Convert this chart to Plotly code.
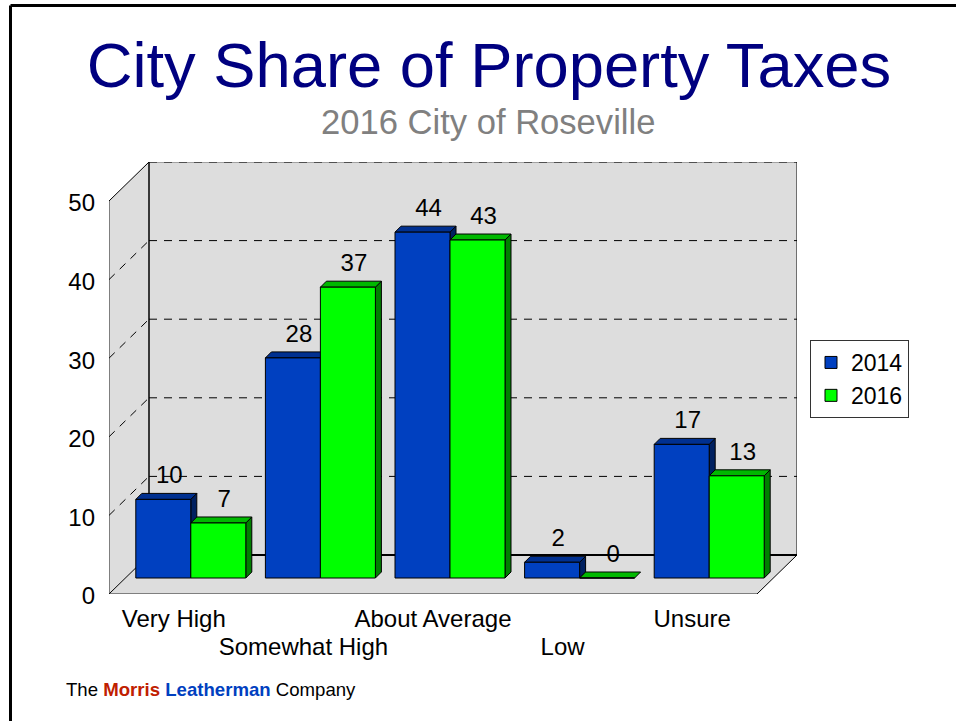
import plotly.graph_objects as go

categories = ["Very High", "Somewhat High", "About Average", "Low", "Unsure"]
series_2014 = [10, 28, 44, 2, 17]
series_2016 = [7, 37, 43, 0, 13]
y_ticks = [0, 10, 20, 30, 40, 50]

# pixel calibration of the pseudo-3D box
PX_X = 129.6   # px per category
PX_Y = 7.86    # px per value unit
L, R, T, B = 109, 797, 162, 594
W, H = 956, 721
DEPTH_X = 40 / PX_X
DEPTH_Y = 39 / PX_Y
INSET_X = 17 / PX_X
INSET_Y = 16 / PX_Y
BAR_W = 55 / PX_X
BAR_DX = 6 / PX_X
BAR_DY = 6 / PX_Y
x_max = (R - L) / PX_X
y_max = (B - T) / PX_Y
n = len(categories)
front_right = x_max - DEPTH_X
y_top = y_ticks[-1]

BLUE, BLUE_TOP, BLUE_SIDE = "#0040C0", "#003090", "#002060"
GREEN, GREEN_TOP, GREEN_SIDE = "#00FF00", "#00B800", "#008000"


def top_and_side(values, offset):
    tx, ty, sx, sy = [], [], [], []
    for i, v in enumerate(values):
        x0 = i + 0.5 + INSET_X + offset
        x1 = x0 + BAR_W
        base = INSET_Y
        top = base + v
        tx += [x0, x1, x1 + BAR_DX, x0 + BAR_DX, x0, None]
        ty += [top, top, top + BAR_DY, top + BAR_DY, top, None]
        if v > 0:
            sx += [x1, x1 + BAR_DX, x1 + BAR_DX, x1, x1, None]
            sy += [base, base + BAR_DY, top + BAR_DY, top, base, None]
    return tx, ty, sx, sy


def face(x, y, color):
    return go.Scatter(x=x, y=y, mode="lines", fill="toself", fillcolor=color,
                      line=dict(color="#000", width=1), hoverinfo="skip",
                      showlegend=False, xaxis="x", yaxis="y", connectgaps=False)


fig = go.Figure()
b_tx, b_ty, b_sx, b_sy = top_and_side(series_2014, -BAR_W)
g_tx, g_ty, g_sx, g_sy = top_and_side(series_2016, 0)
fig.add_trace(face(b_sx, b_sy, BLUE_SIDE))
fig.add_trace(face(b_tx, b_ty, BLUE_TOP))
fig.add_trace(face(g_sx, g_sy, GREEN_SIDE))
fig.add_trace(face(g_tx, g_ty, GREEN_TOP))

bar_x = [i + 0.5 + INSET_X for i in range(n)]
for name, vals, col, off in [("2014", series_2014, BLUE, -BAR_W), ("2016", series_2016, GREEN, 0)]:
    fig.add_trace(go.Bar(x=bar_x, y=vals, base=INSET_Y, width=BAR_W, offset=off, name=name,
                         marker=dict(color=col, line=dict(color="#000", width=1)),
                         xaxis="x2", yaxis="y2"))

for vals, off in [(series_2014, -BAR_W / 2), (series_2016, BAR_W / 2)]:
    fig.add_trace(go.Scatter(
        x=[p + off + 6 / PX_X for p in bar_x],
        y=[v + INSET_Y + 22 / PX_Y for v in vals],
        text=[str(v) for v in vals], mode="text", textposition="middle center",
        textfont=dict(size=24, color="#000"), showlegend=False, hoverinfo="skip",
        xaxis="x2", yaxis="y2", cliponaxis=False))

shapes = []
def poly(pts, fill):
    path = "M" + " L".join(f"{a},{b}" for a, b in pts) + " Z"
    shapes.append(dict(type="path", path=path, xref="x", yref="y", layer="below",
                       fillcolor=fill, line=dict(width=0)))
def seg(x0, y0, x1, y1, color="#000", width=1, dash="solid"):
    shapes.append(dict(type="line", x0=x0, y0=y0, x1=x1, y1=y1, xref="x", yref="y", layer="below",
                       line=dict(color=color, width=width, dash=dash)))

WALL = "#DDDDDD"
poly([(DEPTH_X, DEPTH_Y), (x_max, DEPTH_Y), (x_max, y_top + DEPTH_Y), (DEPTH_X, y_top + DEPTH_Y)], WALL)
poly([(0, 0), (DEPTH_X, DEPTH_Y), (DEPTH_X, y_top + DEPTH_Y), (0, y_top)], WALL)
poly([(0, 0), (front_right, 0), (x_max, DEPTH_Y), (DEPTH_X, DEPTH_Y)], WALL)
DASH = "8px,7px"
for t in y_ticks[1:-1]:
    seg(DEPTH_X, t + DEPTH_Y, x_max, t + DEPTH_Y, dash=DASH)
    seg(0, t, DEPTH_X, t + DEPTH_Y, dash=DASH)
seg(DEPTH_X, y_top + DEPTH_Y, x_max, y_top + DEPTH_Y, color="#666")
seg(DEPTH_X, y_top + DEPTH_Y, x_max, y_top + DEPTH_Y, dash=DASH)
seg(DEPTH_X, DEPTH_Y, x_max, DEPTH_Y, width=2)
seg(DEPTH_X, DEPTH_Y, DEPTH_X, y_top + DEPTH_Y, width=1.5)
seg(x_max, DEPTH_Y, x_max, y_top + DEPTH_Y)
seg(0, 0, 0, y_top, color="#222")
seg(0, y_top, DEPTH_X, y_top + DEPTH_Y)
seg(0, 0, DEPTH_X, DEPTH_Y)
seg(0, 0, front_right, 0, color="#222", width=1.2)
seg(front_right, 0, x_max, DEPTH_Y)

# page frame
def px(x): return (x - L) / (R - L)
def py(y): return (B - y) / (B - T)
for x0, y0, x1, y1 in [(10.5, 5.5, W, 5.5), (10.5, 5.5, 10.5, H)]:
    shapes.append(dict(type="line", xref="paper", yref="paper", x0=px(x0), y0=py(y0), x1=px(x1), y1=py(y1),
                       line=dict(color="#000", width=3), layer="above"))

axis_off = dict(showgrid=False, zeroline=False, fixedrange=True, showline=False, ticks="")
annotations = [
    dict(text="2016 City of Roseville", xref="paper", yref="paper", x=px(488), y=py(122),
         xanchor="center", yanchor="middle", showarrow=False, font=dict(size=34.6, color="#808080")),
    dict(text='The <b><span style="color:#C02000">Morris</span> <span style="color:#0040C0">Leatherman</span></b> Company',
         xref="paper", yref="paper", x=px(64), y=py(689), xanchor="left", yanchor="middle",
         showarrow=False, font=dict(size=18.6, color="#000")),
]

centers = [i + 0.5 for i in range(n)]
fig.update_layout(
    width=W, height=H, autosize=False,
    margin=dict(l=L, r=W - R, t=T, b=H - B, pad=0),
    paper_bgcolor="#FFF", plot_bgcolor="#FFF",
    font=dict(family="Liberation Sans, Arial, sans-serif", color="#000", size=24),
    title=dict(text="City Share of Property Taxes", x=px(489) * (R - L) / W + L / W, xanchor="center",
               y=1 - 65 / H, yanchor="middle", font=dict(size=63.3, color="#000080")),
    barmode="overlay",
    hovermode=False,
    # staggered category labels: odd rows on the main axis, even rows on the overlay axis
    xaxis=dict(range=[0, x_max], tickmode="array", tickvals=centers[0::2], ticktext=categories[0::2],
               tickangle=0, ticklabelstandoff=8, tickfont=dict(size=24, color="#000"), **axis_off),
    yaxis=dict(range=[0, y_max], tickmode="array", tickvals=y_ticks, ticklabelstandoff=13,
               ticklabelshift=2, tickfont=dict(size=24, color="#000"), **axis_off),
    xaxis2=dict(range=[0, x_max], overlaying="x", side="bottom", tickmode="array", tickvals=centers[1::2],
                ticktext=categories[1::2], tickangle=0, ticklabelstandoff=36,
                tickfont=dict(size=24, color="#000"), **axis_off),
    yaxis2=dict(range=[0, y_max], overlaying="y", showticklabels=False, **axis_off),
    legend=dict(x=px(810), y=py(340), xanchor="left", yanchor="top", bgcolor="#FFF",
                bordercolor="#333", borderwidth=1, font=dict(size=23, color="#000"), itemwidth=30,
                traceorder="normal"),
    shapes=shapes, annotations=annotations,
)

fig.write_html("out.html", config=dict(displayModeBar=False),
               post_script="document.body.style.margin='0';document.body.style.overflow='hidden';")
